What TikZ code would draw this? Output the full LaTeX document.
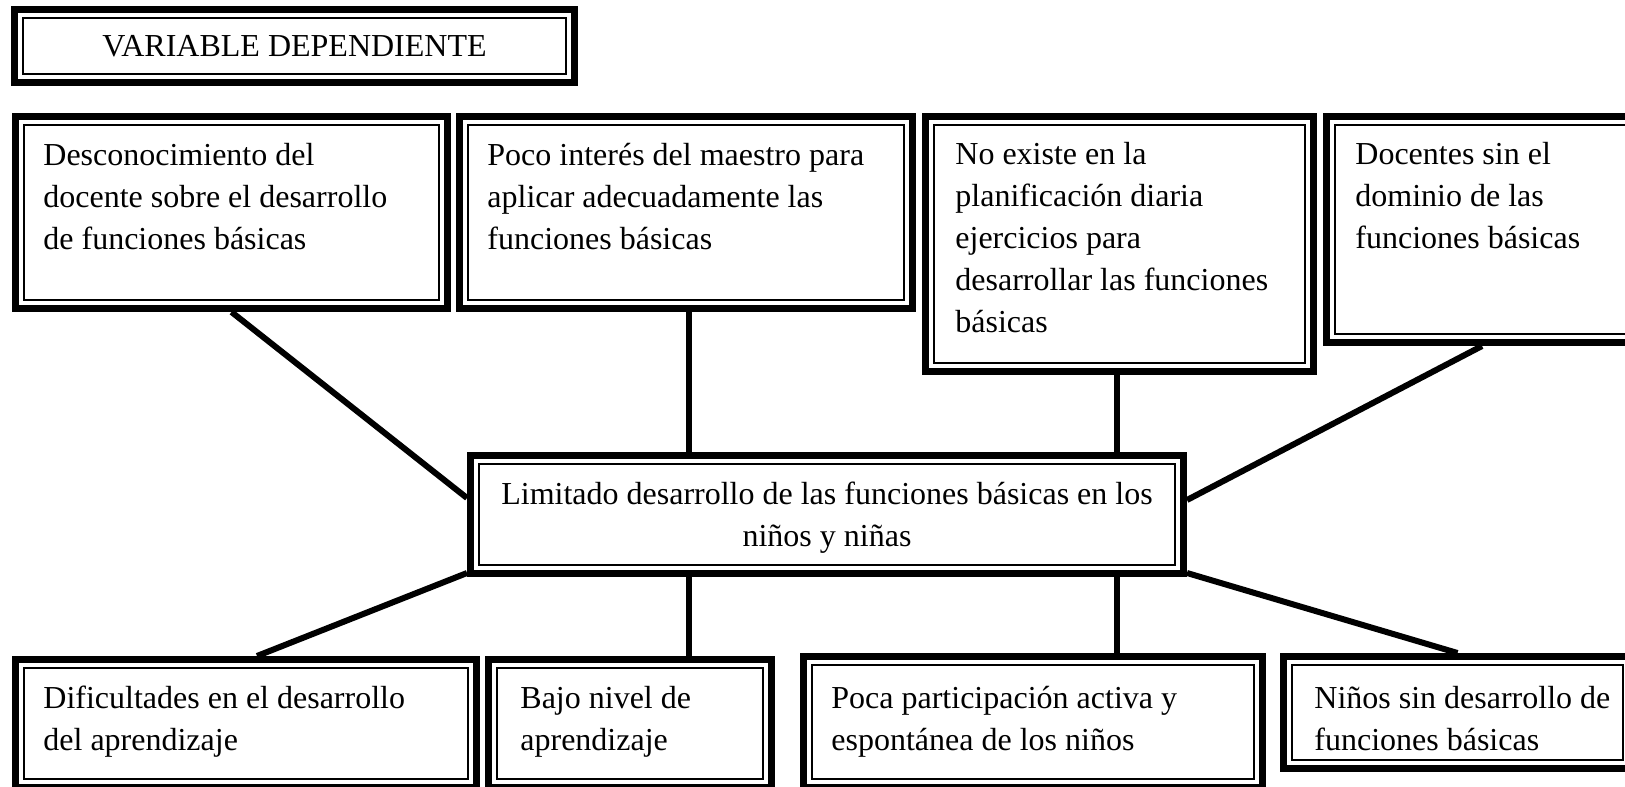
\documentclass[tikz,border=0pt]{standalone}
\usepackage{fontspec}
\setmainfont{Liberation Serif}
\usetikzlibrary{fit,calc}
\tikzset{
  boxarea/.style={inner sep=0pt, outer sep=0pt, fill=white, draw=none},
  conn/.style={line width=3pt},
  txt/.style={anchor=north west, inner sep=0pt, align=left, font=\fontsize{16}{21}\selectfont},
  ctxt/.style={anchor=north, inner sep=0pt, align=center, font=\fontsize{16}{21}\selectfont},
}
\newcommand\frameit[1]{%
  \draw[line width=3.65pt] ([shift={(3.65,3.65)}]#1.north west) rectangle ([shift={(-3.65,-3.65)}]#1.south east);
  \draw[line width=1pt] ([shift={(12.2,12.2)}]#1.north west) rectangle ([shift={(-12.2,-12.2)}]#1.south east);
}
\newcommand\st{\rule{0pt}{13pt}}
\begin{document}
\begin{tikzpicture}[x=0.5pt,y=-0.5pt]
\clip (0,0) rectangle (1625,786);
\fill[white] (0,0) rectangle (1625,786);
% boxes
\node[boxarea, fit={(11,6) (578,86)}] (vd) {};
\node[boxarea, fit={(12,113) (451,312)}] (t1) {};
\node[boxarea, fit={(456,113) (916,312)}] (t2) {};
\node[boxarea, fit={(922,113) (1317,375)}] (t3) {};
\node[boxarea, fit={(1323,113) (1641,346)}] (t4) {};
\node[boxarea, fit={(467,452) (1187,577)}] (c) {};
\node[boxarea, fit={(12,656) (480,791)}] (b1) {};
\node[boxarea, fit={(485,656) (775,791)}] (b2) {};
\node[boxarea, fit={(800,653) (1266,791)}] (b3) {};
\node[boxarea, fit={(1280,653) (1635,772)}] (b4) {};
\foreach \n in {vd,t1,t2,t3,t4,c,b1,b2,b3,b4} {\frameit{\n}}
% connectors
\draw[conn] (t1.south) -- ([shift={(0,-16.5)}]c.west);
\draw[conn] ([shift={(3,0)}]t2.south) -- ([shift={(3,0)}]t2.south |- c.north);
\draw[conn] ([shift={(-2.5,0)}]t3.south) -- ([shift={(-2.5,0)}]t3.south |- c.north);
\draw[conn] (t4.south) -- ([shift={(0,-14.5)}]c.east);
\draw[conn] ([shift={(0,-4)}]c.south west) -- ([shift={(11,0)}]b1.north);
\draw[conn] ([shift={(-138,0)}]c.south) -- ([shift={(-138,0)}]c.south |- b2.north);
\draw[conn] ([shift={(290,0)}]c.south) -- ([shift={(290,0)}]c.south |- b3.north);
\draw[conn] ([shift={(0,-4)}]c.south east) -- (b4.north);
% texts
\node[anchor=base, inner sep=0pt, font=\fontsize{16}{21}\selectfont] (vdt) at (294.5,57) {VARIABLE DEPENDIENTE};
\node[txt] (t1t) at (43,139) {\st Desconocimiento del\\docente sobre el desarrollo\\de funciones básicas};
\node[txt] (t2t) at (487,139) {\st Poco interés del maestro para\\aplicar adecuadamente las\\funciones básicas};
\node[txt] (t3t) at (955,138) {\st No existe en la\\planificación diaria\\ejercicios para\\desarrollar las funciones\\básicas};
\node[txt] (t4t) at (1355,138) {\st Docentes sin el\\dominio de las\\funciones básicas};
\node[ctxt] (ct) at (827,478) {\st Limitado desarrollo de las funciones básicas en los\\niños y niñas};
\node[txt] (b1t) at (43,682) {\st Dificultades en el desarrollo\\del aprendizaje};
\node[txt] (b2t) at (520,682) {\st Bajo nivel de\\aprendizaje};
\node[txt] (b3t) at (831,682) {\st Poca participación activa y\\espontánea de los niños};
\node[txt] (b4t) at (1314,682) {\st Niños sin desarrollo de\\funciones básicas};
\end{tikzpicture}
\end{document}
